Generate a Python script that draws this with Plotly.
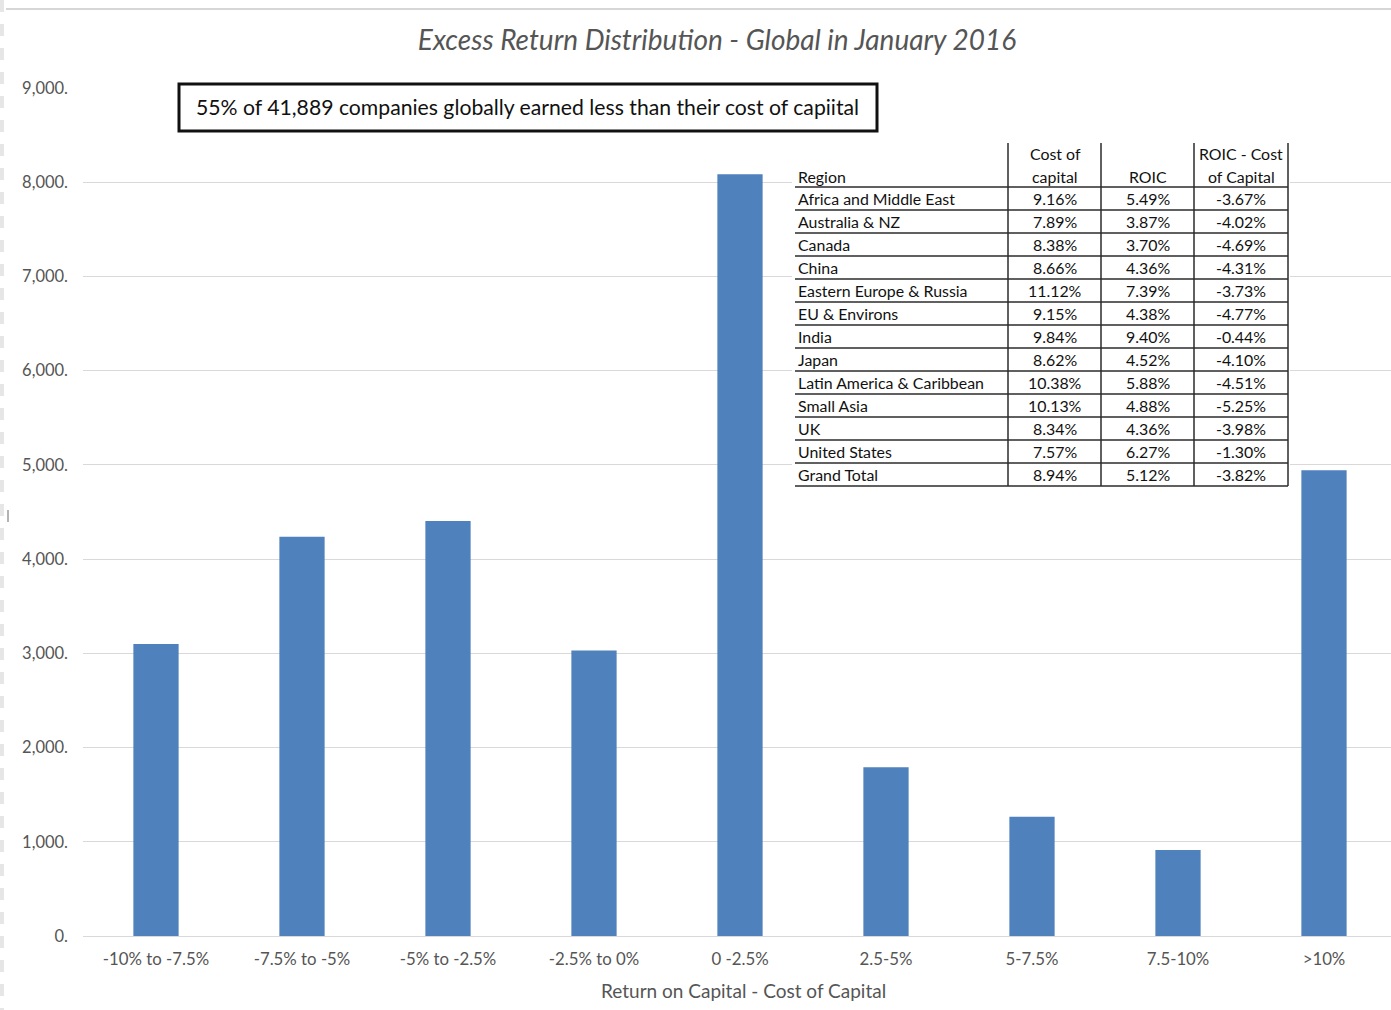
import plotly.graph_objects as go

# ---- chart data ----
bins = ["-10% to -7.5%", "-7.5% to -5%", "-5% to -2.5%", "-2.5% to 0%", "0 -2.5%",
        "2.5-5%", "5-7.5%", "7.5-10%", ">10%"]
companies = [3100, 4236, 4405, 3030, 8085, 1791, 1265, 912, 4944]

y_ticks = [0, 1000, 2000, 3000, 4000, 5000, 6000, 7000, 8000, 9000]
y_tick_text = ["0.", "1,000.", "2,000.", "3,000.", "4,000.", "5,000.",
               "6,000.", "7,000.", "8,000.", "9,000."]

# ---- regional table data ----
regions = ["Africa and Middle East", "Australia & NZ", "Canada", "China",
           "Eastern Europe & Russia", "EU & Environs", "India", "Japan",
           "Latin America & Caribbean", "Small Asia", "UK", "United States",
           "Grand Total"]
cost_of_capital = ["9.16%", "7.89%", "8.38%", "8.66%", "11.12%", "9.15%", "9.84%",
                   "8.62%", "10.38%", "10.13%", "8.34%", "7.57%", "8.94%"]
roic = ["5.49%", "3.87%", "3.70%", "4.36%", "7.39%", "4.38%", "9.40%",
        "4.52%", "5.88%", "4.88%", "4.36%", "6.27%", "5.12%"]
excess = ["-3.67%", "-4.02%", "-4.69%", "-4.31%", "-3.73%", "-4.77%", "-0.44%",
          "-4.10%", "-4.51%", "-5.25%", "-3.98%", "-1.30%", "-3.82%"]

note_text = "55% of 41,889 companies globally earned less than their cost of capiital"

# ---- page geometry (pixels) ----
W, H = 1391, 1010
ML, MR, MT, MB = 83, 0, 88, 74
PW, PH = W - ML - MR, H - MT - MB
SLOT = 146.0  # pixel width of one category slot

FONT = "Lato, Carlito, Calibri, 'Open Sans', sans-serif"
GREY_TXT = "#555555"
BAR_BLUE = "#4F81BD"


def px(x):
    return (x - ML) / PW


def py(y):
    return (H - MB - y) / PH


fig = go.Figure(go.Bar(
    x=bins, y=companies, marker=dict(color=BAR_BLUE, line=dict(width=0)),
    hoverinfo="x+y",
))

shapes = []
annotations = []

# outer page edge lines
shapes.append(dict(type="line", xref="paper", yref="paper", x0=px(6), x1=px(W),
                   y0=py(9), y1=py(9), line=dict(color="#c9c9c9", width=1.5)))
shapes.append(dict(type="line", xref="paper", yref="paper", x0=px(2), x1=px(2),
                   y0=py(0), y1=py(H), line=dict(color="#e6e6e6", width=4, dash="dash")))
shapes.append(dict(type="line", xref="paper", yref="paper", x0=px(8), x1=px(8),
                   y0=py(510), y1=py(522), line=dict(color="#9a9a9a", width=1.5)))

# boxed note
shapes.append(dict(type="rect", xref="paper", yref="paper", layer="above",
                   x0=px(179), x1=px(877), y0=py(84), y1=py(131),
                   fillcolor="white", line=dict(color="#111111", width=3)))
annotations.append(dict(xref="paper", yref="paper", x=px(527), y=py(107),
                        text=note_text, showarrow=False, xanchor="center", yanchor="middle",
                        font=dict(family=FONT, size=21.2, color="#111111")))

# regional table
TBL_L, TBL_R = 795, 1288
TBL_TOP, HDR_BOT, ROW_H = 143, 187, 23
col_lines = [1008, 1101, 1194, 1288]
col_centres = [1055, 1148, 1241]
tbl_bottom = HDR_BOT + ROW_H * len(regions)
LINE_CLR = "#2b2b2b"
tfont = dict(family=FONT, size=15.9, color="#111111")

shapes.append(dict(type="rect", xref="paper", yref="paper", layer="above",
                   x0=px(TBL_L - 3), x1=px(TBL_R + 2), y0=py(TBL_TOP - 3), y1=py(tbl_bottom + 2),
                   fillcolor="white", line=dict(width=0)))
for xv in col_lines:
    shapes.append(dict(type="line", xref="paper", yref="paper", layer="above",
                       x0=px(xv), x1=px(xv), y0=py(TBL_TOP), y1=py(tbl_bottom),
                       line=dict(color=LINE_CLR, width=1.5)))
for k in range(len(regions) + 1):
    yv = HDR_BOT + ROW_H * k
    shapes.append(dict(type="line", xref="paper", yref="paper", layer="above",
                       x0=px(TBL_L), x1=px(TBL_R), y0=py(yv), y1=py(yv),
                       line=dict(color=LINE_CLR, width=1.5)))

# header cells
TXT_L = 796
header_cells = [
    (TXT_L, 176, "Region", "left"),
    (col_centres[0], 153, "Cost of", "center"),
    (col_centres[0], 176, "capital", "center"),
    (col_centres[1], 176, "ROIC", "center"),
    (col_centres[2], 153, "ROIC - Cost", "center"),
    (col_centres[2], 176, "of Capital", "center"),
]
for xv, yv, txt, anchor in header_cells:
    annotations.append(dict(xref="paper", yref="paper", x=px(xv), y=py(yv), text=txt,
                            showarrow=False, xanchor=anchor, yanchor="middle", font=tfont))

# body cells
for k, (reg, coc, ro, ex) in enumerate(zip(regions, cost_of_capital, roic, excess)):
    yv = HDR_BOT + ROW_H * k + ROW_H / 2
    annotations.append(dict(xref="paper", yref="paper", x=px(TXT_L), y=py(yv), text=reg,
                            showarrow=False, xanchor="left", yanchor="middle", font=tfont))
    for xc, val in zip(col_centres, (coc, ro, ex)):
        annotations.append(dict(xref="paper", yref="paper", x=px(xc), y=py(yv), text=val,
                                showarrow=False, xanchor="center", yanchor="middle", font=tfont))

# x-axis title
annotations.append(dict(xref="paper", yref="paper", x=px(743), y=py(990),
                        text="Return on Capital - Cost of Capital", showarrow=False,
                        xanchor="center", yanchor="middle",
                        font=dict(family=FONT, size=19, color=GREY_TXT)))

fig.update_layout(
    width=W, height=H,
    margin=dict(l=ML, r=MR, t=MT, b=MB, pad=0),
    paper_bgcolor="white", plot_bgcolor="white",
    showlegend=False,
    bargap=0.69,
    title=dict(text="<i>Excess Return Distribution - Global in January 2016</i>",
               x=717 / W, xanchor="center", y=1 - 40 / H, yanchor="middle",
               font=dict(family=FONT, size=28, color=GREY_TXT)),
    xaxis=dict(type="category", range=[-0.5, -0.5 + PW / SLOT],
               showgrid=False, zeroline=False, showline=False, ticks="",
               tickfont=dict(family=FONT, size=16.8, color=GREY_TXT),
               ticklabelstandoff=11),
    yaxis=dict(range=[0, 9000], tickvals=y_ticks, ticktext=y_tick_text,
               showgrid=True, gridcolor="#d9d9d9", gridwidth=1,
               zeroline=True, zerolinecolor="#d9d9d9", zerolinewidth=1,
               showline=False, ticks="",
               tickfont=dict(family=FONT, size=16.5, color=GREY_TXT),
               ticklabelstandoff=14),
    shapes=shapes,
    annotations=annotations,
)

fig.write_html("out.html")
